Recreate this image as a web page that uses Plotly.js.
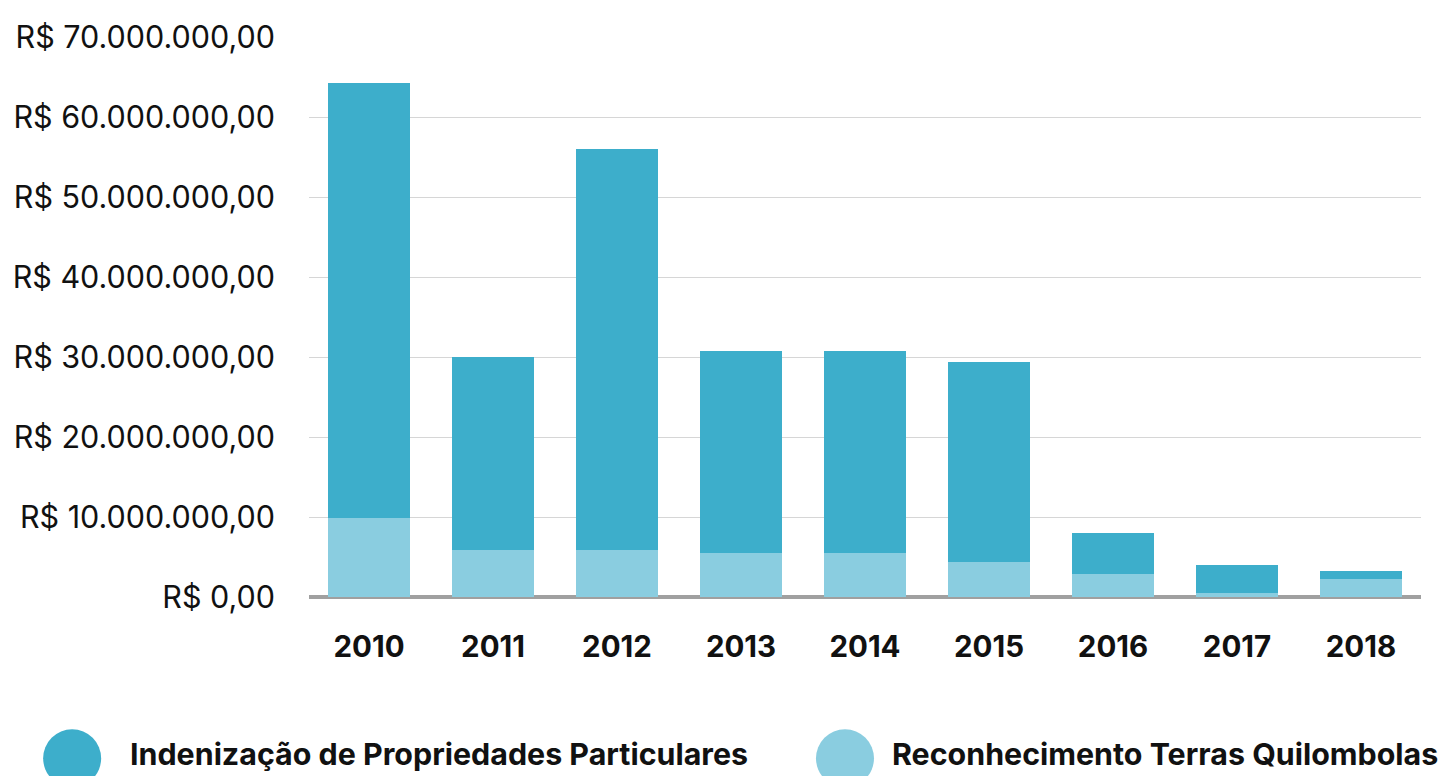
<!DOCTYPE html>
<html>
<head>
<meta charset="utf-8">
<script src="https://cdn.plot.ly/plotly-3.0.1.min.js"></script>
<style>
  html, body { margin: 0; padding: 0; background: #fff; }
  #chart { width: 1438px; height: 776px; }
</style>
</head>
<body>
<div id="chart"></div>
<script>
// categories
const years = ['2010', '2011', '2012', '2013', '2014', '2015', '2016', '2017', '2018'];

// series values (R$)
const quilombolas = [9900000, 5900000, 5900000, 5500000, 5500000, 4400000, 2900000, 500000, 2250000];
const indenizacao = [54350000, 24100000, 50100000, 25250000, 25250000, 25000000, 5100000, 3500000, 1000000];

const nameIndenizacao = 'Indenização de Propriedades Particulares';
const nameQuilombolas = 'Reconhecimento Terras Quilombolas';

const darkBlue = '#3daecb';
const lightBlue = '#8acde0';

const traces = [
  {
    x: years,
    y: quilombolas,
    name: nameQuilombolas,
    type: 'bar',
    marker: {color: lightBlue},
    hoverinfo: 'none'
  },
  {
    x: years,
    y: indenizacao,
    name: nameIndenizacao,
    type: 'bar',
    marker: {color: darkBlue},
    hoverinfo: 'none'
  }
];

// legend drawn by hand: big round swatches and bold labels under the plot
function legendShape(xp, color) {
  return {
    type: 'circle', xref: 'paper', yref: 'paper',
    xsizemode: 'pixel', ysizemode: 'pixel',
    xanchor: xp, yanchor: -0.288,
    x0: -29, x1: 29, y0: -29, y1: 29,
    fillcolor: color, line: {width: 0}
  };
}

const layout = {
  width: 1438,
  height: 776,
  margin: {l: 309, r: 17, t: 37, b: 179},
  paper_bgcolor: '#fff',
  plot_bgcolor: '#fff',
  barmode: 'stack',
  bargap: 0.34,
  showlegend: false,
  separators: ',.',
  font: {family: 'Inter, sans-serif', color: '#111'},
  xaxis: {
    type: 'category',
    range: [-0.484, 8.484],
    showgrid: false,
    showline: false,
    zeroline: false,
    ticks: '',
    ticklabelstandoff: 29,
    tickfont: {family: 'Inter, sans-serif', size: 29.5, weight: 'bold', color: '#111'}
  },
  yaxis: {
    range: [0, 70000000],
    dtick: 10000000,
    tickprefix: 'R$ ',
    tickformat: ',.2f',
    showgrid: true,
    gridcolor: '#d6d6d6',
    gridwidth: 1,
    zeroline: true,
    zerolinecolor: '#a0a0a0',
    zerolinewidth: 4,
    showline: false,
    ticks: '',
    ticklabelstandoff: 33,
    tickfont: {family: 'Inter, sans-serif', size: 30.5, color: '#111'}
  },
  shapes: [
    legendShape(-0.213, darkBlue),
    legendShape(0.482, lightBlue)
  ],
  annotations: [
    {
      text: nameIndenizacao, xref: 'paper', yref: 'paper',
      x: -0.163, y: -0.28, xanchor: 'left', yanchor: 'middle', showarrow: false,
      font: {family: 'Inter, sans-serif', size: 30.4, weight: 'bold', color: '#111'}
    },
    {
      text: nameQuilombolas, xref: 'paper', yref: 'paper',
      x: 0.5225, y: -0.28, xanchor: 'left', yanchor: 'middle', showarrow: false,
      font: {family: 'Inter, sans-serif', size: 30.4, weight: 'bold', color: '#111'}
    }
  ]
};

Plotly.newPlot('chart', traces, layout, {displayModeBar: false, staticPlot: true});
</script>
</body>
</html>
